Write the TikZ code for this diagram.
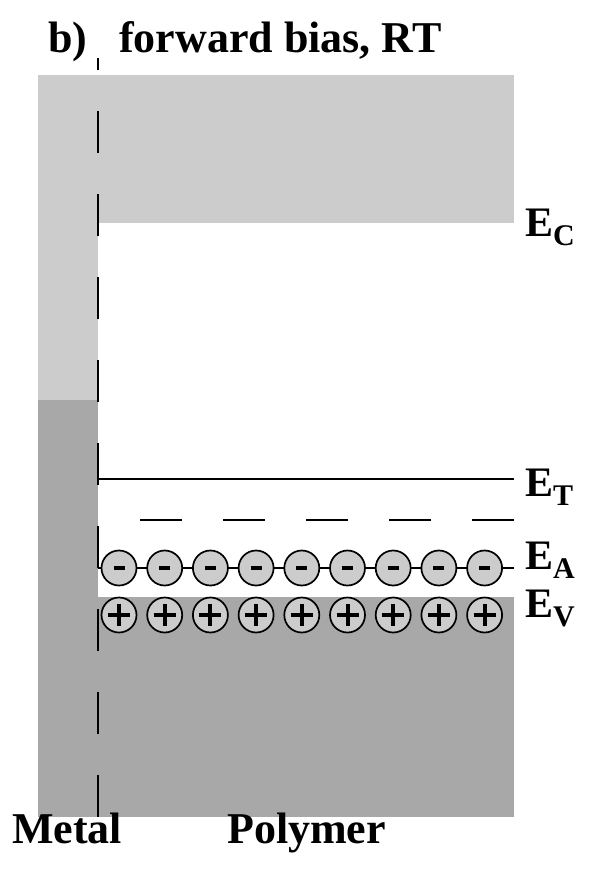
\documentclass[tikz,border=0pt]{standalone}
\usepackage{fontspec}
\setmainfont{Liberation Serif}
\usetikzlibrary{positioning}
\definecolor{bandlight}{HTML}{CCCCCC}
\definecolor{banddark}{HTML}{A8A8A8}
\newcommand{\figbandsub}{\fontsize{30}{30}\selectfont}
\tikzset{
  bigtext/.style={anchor=base west, inner sep=0pt, font=\fontsize{44}{50}\selectfont\bfseries},
  elabel/.style={anchor=base west, inner sep=0pt, font=\fontsize{42}{48}\selectfont\bfseries},
  level/.style={line width=2pt},
  dashlevel/.style={line width=2pt, dash pattern=on 42pt off 41pt},
  interface/.style={line width=2.5pt, dash pattern=on 42pt off 41pt},
  charge/.style={circle, draw, line width=1.7pt, fill=bandlight, minimum size=35pt, inner sep=0pt},
  sign/.style={line width=4pt}
}
\begin{document}
\begin{tikzpicture}[x=1pt,y=-1pt]
        \newcommand{\figbandmetalleft}{38}
        \newcommand{\figbandinterface}{98}
        \newcommand{\figbandright}{514}
        \newcommand{\figbandtop}{75}
        \newcommand{\figbandbottom}{817}
        \newcommand{\figbandecy}{223}
        \newcommand{\figbandfermiy}{400}
        \newcommand{\figbandety}{479}
        \newcommand{\figbanddashy}{520}
        \newcommand{\figbanddashxstart}{140}
        \newcommand{\figbandeay}{568}
        \newcommand{\figbandevy}{597}
        \newcommand{\figbandcircy}{\figbandevy+18}
        \newcommand{\figbandcircxstart}{119}
        \newcommand{\figbandcircstep}{45.7}
        \newcommand{\figbandlabelx}{525}
        \useasboundingbox (0,0) rectangle (598,871);
        % bands
        \fill[bandlight] (\figbandmetalleft,\figbandtop) rectangle (\figbandinterface,\figbandfermiy);
        \fill[banddark] (\figbandmetalleft,\figbandfermiy) rectangle (\figbandinterface,\figbandbottom);
        \fill[bandlight] (\figbandinterface,\figbandtop) rectangle (\figbandright,\figbandecy);
        \fill[banddark] (\figbandinterface,\figbandevy) rectangle (\figbandright,\figbandbottom);
        % levels
        \coordinate (etleft) at (\figbandinterface,\figbandety);
        \coordinate (etright) at (\figbandright,\figbandety);
        \draw[level] (etleft) -- (etright);
        \coordinate (dashleft) at (\figbanddashxstart,\figbanddashy);
        \coordinate (dashright) at (\figbandright,\figbanddashy);
        \draw[dashlevel] (dashright) -- (dashleft);
        \coordinate (ealeft) at (\figbandinterface,\figbandeay);
        \coordinate (earight) at (\figbandright,\figbandeay);
        \draw[level] (ealeft) -- (earight);
        % interface
        \coordinate (intbottom) at (\figbandinterface,\figbandbottom);
        \coordinate (inttop) at (\figbandinterface,58);
        \draw[interface] (intbottom) -- (inttop);
        % charges
        \foreach \i in {1,...,9} {
            \node[charge] (minus\i) at (\figbandcircxstart+\i*\figbandcircstep-\figbandcircstep,\figbandeay) {};
            \draw[sign] (minus\i.center) ++(-5.5,0) -- ++(11,0);
            \node[charge] (plus\i) at (\figbandcircxstart+\i*\figbandcircstep-\figbandcircstep,\figbandcircy) {};
            \draw[sign] (plus\i.center) ++(-11,0) -- ++(22,0);
            \draw[sign] (plus\i.center) ++(0,-11) -- ++(0,22);
        }
        % labels
        \node[elabel] (labec) at (\figbandlabelx,236) {E\raisebox{-9pt}{\figbandsub C}};
        \node[elabel] (labet) at (\figbandlabelx,496) {E\raisebox{-9pt}{\figbandsub T}};
        \node[elabel] (labea) at (\figbandlabelx,569) {E\raisebox{-9pt}{\figbandsub A}};
        \node[elabel] (labev) at (\figbandlabelx,617) {E\raisebox{-9pt}{\figbandsub V}};
        \node[bigtext] (titlepart) at (48,52) {b)};
        \node[bigtext] (titletext) at (119,52) {forward bias, RT};
        \node[bigtext] (metal) at (12,843) {Metal};
        \node[bigtext] (polymer) at (227,843) {Polymer};
    \end{tikzpicture}
\end{document}
